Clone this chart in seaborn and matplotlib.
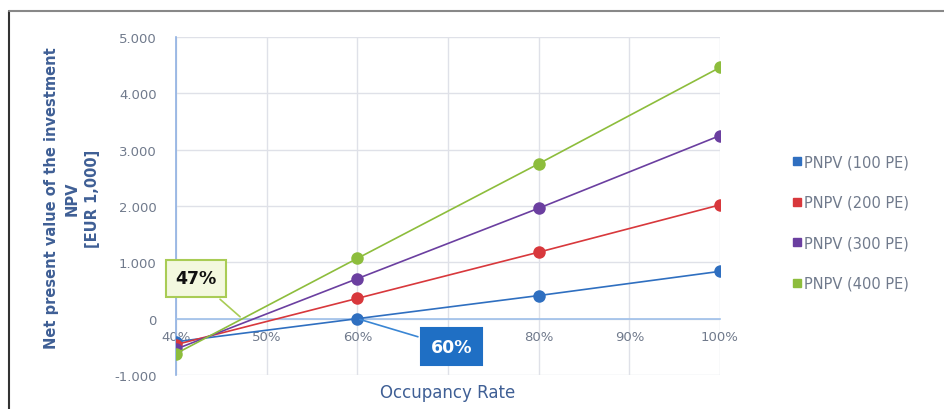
import numpy as np
import pandas as pd
import matplotlib
matplotlib.use("Agg")
import matplotlib.pyplot as plt
import seaborn as sns
from matplotlib.ticker import FuncFormatter, MultipleLocator
from matplotlib.lines import Line2D

occupancy = [0.4, 0.6, 0.8, 1.0]
series_names = ["PNPV (100 PE)", "PNPV (200 PE)", "PNPV (300 PE)", "PNPV (400 PE)"]
npv_100 = [-410, 0, 410, 840]
npv_200 = [-460, 360, 1180, 2020]
npv_300 = [-540, 710, 1960, 3250]
npv_400 = [-620, 1070, 2750, 4460]
colors = ["#2f6fc0", "#d8383c", "#6b3fa0", "#8dbd3c"]
breakeven_labels = ["47%", "60%"]
breakeven_x = [0.473, 0.60]
x_tick_labels = ["40%", "50%", "60%", "", "80%", "90%", "100%"]  # 70% hidden under callout

df = pd.DataFrame({
    "occ": occupancy * 4,
    "npv": npv_100 + npv_200 + npv_300 + npv_400,
    "series": [s for s in series_names for _ in occupancy],
})

sns.set_theme(style="white")
plt.rcParams['font.family'] = ['DejaVu Sans']

fig = plt.figure(figsize=(9.45, 4.10), dpi=100)
ax = fig.add_axes([176/945, 1-376/410, (720-176)/945, (376-38)/410])

sns.lineplot(data=df, x="occ", y="npv", hue="series", palette=colors,
             marker="o", markersize=9, markeredgewidth=0, linewidth=1.2,
             legend=False, ax=ax, zorder=5)

ax.set_xlim(0.4, 1.0)
ax.set_ylim(-1000, 5000)
ax.set_xticks(np.linspace(0.4, 1.0, 7))
ax.set_xticklabels(x_tick_labels)
ax.yaxis.set_major_locator(MultipleLocator(1000))
ax.yaxis.set_major_formatter(FuncFormatter(lambda v, p: f"{v:,.0f}".replace(",", ".")))
ax.grid(True, color="#dfe1e8", linewidth=1.0)
ax.set_axisbelow(True)

for s in ["top", "right"]:
    ax.spines[s].set_visible(False)
ax.spines["left"].set_color("#8fb0e2")
ax.spines["left"].set_linewidth(1.2)
ax.spines["bottom"].set_position(("data", 0))
ax.spines["bottom"].set_color("#9fc0ea")
ax.spines["bottom"].set_linewidth(1.2)
ax.tick_params(axis="both", length=0, labelsize=9.5, labelcolor="#707a8c")
ax.tick_params(axis="y", pad=14)
ax.tick_params(axis="x", pad=8)

ax.set_xlabel("Occupancy Rate", fontsize=12, color="#3f5f95")
ax.xaxis.set_label_coords(0.5, -0.025)
ax.set_ylabel("Net present value of the investment\nNPV\n[EUR 1,000]",
              fontsize=10.5, color="#3f5f95", linespacing=1.45, fontweight="bold")
ax.yaxis.set_label_coords(-0.14, 0.525)

# break-even callouts
ax.annotate(breakeven_labels[0], xy=(breakeven_x[0], 0), xytext=(0.422, 720),
            fontsize=12.5, fontweight="bold", color="#111111", ha="center", va="center",
            bbox=dict(boxstyle="square,pad=0.55", fc="#f3f8df", ec="#a9cc55", lw=1.5),
            arrowprops=dict(arrowstyle="-", color="#a9cc55", lw=1.2), zorder=10,
            annotation_clip=False)
ax.annotate(breakeven_labels[1], xy=(breakeven_x[1], 0), xytext=(0.704, -500),
            fontsize=12.5, fontweight="bold", color="white", ha="center", va="center",
            bbox=dict(boxstyle="square,pad=0.55", fc="#1f6fc4", ec="#1f6fc4", lw=1.5),
            arrowprops=dict(arrowstyle="-", color="#3a86d4", lw=1.2), zorder=10,
            annotation_clip=False)

handles = [Line2D([], [], marker="s", linestyle="none", color=c, markersize=6)
           for c in colors]
fig.legend(handles, series_names, loc="center left", bbox_to_anchor=(0.823, 0.455),
           frameon=False, fontsize=10.5, labelcolor="#707a8c", labelspacing=1.75,
           handletextpad=0.1, handlelength=0.8)

# outer frame lines (left and top)
fig.add_artist(Line2D([9/945, 9/945], [0, 1-12/410], transform=fig.transFigure,
                      color="#333333", lw=1.5))
fig.add_artist(Line2D([9/945, 1], [1-12/410, 1-12/410], transform=fig.transFigure,
                      color="#888888", lw=1.5))

fig.savefig("out.png", dpi=100)
